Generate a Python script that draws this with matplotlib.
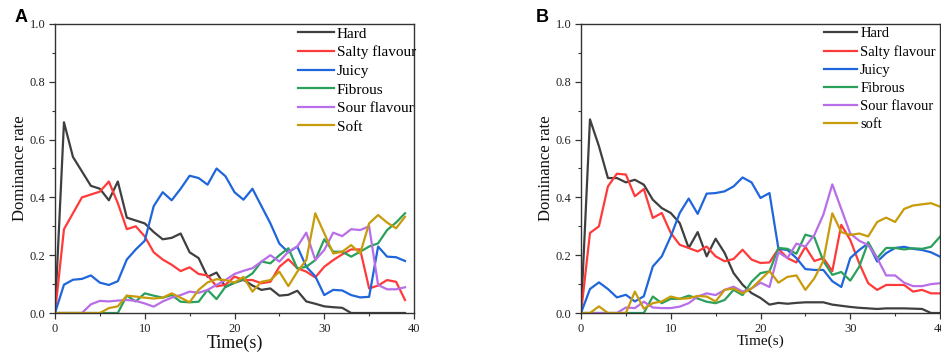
import numpy as np
import matplotlib
matplotlib.use("Agg")
import matplotlib.pyplot as plt
from matplotlib.ticker import MultipleLocator

# ---------------- data ----------------
time_a = list(range(0, 40))
time_b = list(range(0, 41))

hard_a = [0.0, 0.66, 0.54, 0.49, 0.44, 0.43, 0.39, 0.455, 0.33, 0.32, 0.31, 0.28, 0.255, 0.26,
          0.275, 0.21, 0.19, 0.125, 0.14, 0.09, 0.105, 0.115, 0.095, 0.08, 0.085, 0.06, 0.063,
          0.077, 0.04, 0.032, 0.023, 0.02, 0.018, 0.0, 0.0, 0.0, 0.0, 0.0, 0.0, 0.0]
salty_a = [0.0, 0.29, 0.345, 0.40, 0.41, 0.42, 0.455, 0.38, 0.29, 0.30, 0.265, 0.21, 0.185, 0.167,
           0.145, 0.158, 0.135, 0.13, 0.092, 0.098, 0.126, 0.114, 0.114, 0.103, 0.108, 0.16, 0.186,
           0.155, 0.143, 0.123, 0.16, 0.183, 0.203, 0.22, 0.22, 0.085, 0.095, 0.114, 0.108, 0.045]
juicy_a = [0.0, 0.098, 0.115, 0.118, 0.13, 0.105, 0.097, 0.11, 0.185, 0.22, 0.25, 0.37, 0.418, 0.39,
           0.43, 0.475, 0.467, 0.444, 0.50, 0.473, 0.418, 0.392, 0.43, 0.37, 0.31, 0.24, 0.21,
           0.23, 0.16, 0.127, 0.062, 0.08, 0.078, 0.062, 0.054, 0.056, 0.23, 0.195, 0.193, 0.18]
fibrous_a = [0.0, 0.0, 0.0, 0.0, 0.0, 0.0, 0.0, 0.0, 0.06, 0.04, 0.068, 0.06, 0.053, 0.062, 0.039,
             0.037, 0.039, 0.08, 0.048, 0.091, 0.105, 0.117, 0.137, 0.178, 0.172, 0.20, 0.224,
             0.154, 0.16, 0.183, 0.255, 0.212, 0.212, 0.195, 0.212, 0.23, 0.241, 0.287, 0.313, 0.345]
sour_a = [0.0, 0.0, 0.0, 0.0, 0.03, 0.042, 0.04, 0.043, 0.045, 0.042, 0.033, 0.022, 0.04, 0.053,
          0.062, 0.074, 0.07, 0.08, 0.097, 0.114, 0.135, 0.146, 0.155, 0.178, 0.20, 0.178, 0.212,
          0.23, 0.278, 0.183, 0.218, 0.278, 0.266, 0.29, 0.287, 0.30, 0.097, 0.082, 0.082, 0.089]
soft_a = [0.0, 0.0, 0.0, 0.0, 0.0, 0.0, 0.017, 0.023, 0.06, 0.057, 0.053, 0.05, 0.053, 0.068, 0.053,
          0.037, 0.08, 0.106, 0.117, 0.114, 0.105, 0.125, 0.074, 0.108, 0.114, 0.143, 0.093, 0.143,
          0.183, 0.345, 0.276, 0.206, 0.212, 0.235, 0.206, 0.31, 0.339, 0.313, 0.293, 0.333]

hard_b = [0.0, 0.67, 0.577, 0.467, 0.467, 0.452, 0.461, 0.444, 0.392, 0.363, 0.346, 0.311, 0.225,
          0.28, 0.196, 0.257, 0.208, 0.138, 0.098, 0.069, 0.052, 0.029, 0.035, 0.032, 0.035, 0.037,
          0.037, 0.037, 0.029, 0.025, 0.021, 0.018, 0.016, 0.014, 0.016, 0.016, 0.016, 0.015, 0.014,
          0.0, 0.0]
salty_b = [0.0, 0.277, 0.30, 0.438, 0.482, 0.479, 0.404, 0.429, 0.329, 0.346, 0.277, 0.236, 0.225,
           0.213, 0.23, 0.196, 0.179, 0.187, 0.219, 0.185, 0.173, 0.175, 0.222, 0.19, 0.175, 0.229,
           0.18, 0.19, 0.145, 0.305, 0.253, 0.172, 0.103, 0.08, 0.097, 0.097, 0.097, 0.074, 0.08,
           0.068, 0.068]
juicy_b = [0.0, 0.083, 0.106, 0.083, 0.054, 0.063, 0.04, 0.058, 0.161, 0.196, 0.265, 0.346, 0.396,
           0.343, 0.413, 0.415, 0.421, 0.438, 0.469, 0.452, 0.398, 0.415, 0.222, 0.218, 0.19, 0.152,
           0.149, 0.149, 0.11, 0.09, 0.19, 0.218, 0.241, 0.178, 0.207, 0.225, 0.229, 0.222, 0.218,
           0.21, 0.195]
fibrous_b = [0.0, 0.0, 0.0, 0.0, 0.0, 0.0, 0.0, 0.0, 0.057, 0.034, 0.049, 0.049, 0.06, 0.05, 0.039,
             0.034, 0.045, 0.08, 0.062, 0.108, 0.138, 0.144, 0.225, 0.222, 0.205, 0.271, 0.262,
             0.18, 0.132, 0.142, 0.112, 0.16, 0.245, 0.19, 0.225, 0.225, 0.22, 0.224, 0.222, 0.229,
             0.264]
sour_b = [0.0, 0.0, 0.0, 0.0, 0.0, 0.019, 0.017, 0.039, 0.019, 0.017, 0.017, 0.022, 0.034, 0.057,
          0.068, 0.062, 0.08, 0.091, 0.074, 0.085, 0.105, 0.09, 0.21, 0.19, 0.24, 0.23, 0.27, 0.34,
          0.445, 0.36, 0.275, 0.25, 0.235, 0.19, 0.13, 0.13, 0.105, 0.093, 0.093, 0.1, 0.103]
soft_b = [0.0, 0.0, 0.023, 0.0, 0.0, 0.0, 0.074, 0.015, 0.034, 0.04, 0.057, 0.049, 0.051, 0.059,
          0.057, 0.04, 0.08, 0.085, 0.068, 0.085, 0.115, 0.145, 0.105, 0.125, 0.13, 0.08, 0.12,
          0.18, 0.345, 0.28, 0.27, 0.275, 0.265, 0.315, 0.33, 0.315, 0.36, 0.372, 0.376, 0.38, 0.368]

labels_a = ["Hard", "Salty flavour", "Juicy", "Fibrous", "Sour flavour", "Soft"]
labels_b = ["Hard", "Salty flavour", "Juicy", "Fibrous", "Sour flavour", "soft"]
colors = ["#3f3f3f", "#ff3a3a", "#1f66dc", "#2aa05c", "#b86ee8", "#c89b0a"]

x_ticks = [0, 10, 20, 30, 40]
y_ticks = [0.0, 0.2, 0.4, 0.6, 0.8, 1.0]

# ---------------- figure ----------------
fig = plt.figure(figsize=(9.41, 3.54), dpi=100)
serif = "Liberation Serif"

def style_axes(ax, xlabel_size):
    ax.set_xlim(0, 40)
    ax.set_ylim(0, 1.0)
    ax.set_xticks(x_ticks)
    ax.set_yticks(y_ticks)
    ax.set_xticklabels([str(t) for t in x_ticks])
    ax.set_yticklabels([f"{t:.1f}" for t in y_ticks])
    ax.xaxis.set_minor_locator(MultipleLocator(5))
    ax.yaxis.set_minor_locator(MultipleLocator(0.1))
    ax.tick_params(which="major", direction="out", length=4, width=0.9, colors="#333333",
                   labelsize=9, pad=3)
    ax.tick_params(which="minor", direction="out", length=2.5, width=0.8, colors="#333333")
    for lab in ax.get_xticklabels() + ax.get_yticklabels():
        lab.set_fontfamily(serif)
        lab.set_color("#222222")
    for s in ax.spines.values():
        s.set_color("#333333")
        s.set_linewidth(1.0)
    ax.set_xlabel("Time(s)", fontfamily=serif, fontsize=xlabel_size, labelpad=0, color="#111111")
    ax.set_ylabel("Dominance rate", fontfamily=serif, fontsize=12, labelpad=1, color="#111111")

def add_legend(ax, xanchor, size):
    ax.legend(loc="upper left", bbox_to_anchor=(xanchor, 0.995), frameon=False,
              prop={"family": serif, "size": size}, handlelength=2.3, handletextpad=0.2,
              labelspacing=0.32 * 11 / size, borderaxespad=0.0, borderpad=0.1)

ax_a = fig.add_axes([55 / 941, 1 - 313 / 354, 359 / 941, 289 / 354])
series_a = [hard_a, salty_a, juicy_a, fibrous_a, sour_a, soft_a]
for ys, lab, c in zip(series_a, labels_a, colors):
    ax_a.plot(time_a, ys, color=c, lw=1.6, label=lab, solid_joinstyle="round")
style_axes(ax_a, 13)
add_legend(ax_a, 0.674, 11)

ax_b = fig.add_axes([581 / 941, 1 - 313 / 354, 359 / 941, 289 / 354])
series_b = [hard_b, salty_b, juicy_b, fibrous_b, sour_b, soft_b]
for ys, lab, c in zip(series_b, labels_b, colors):
    ax_b.plot(time_b, ys, color=c, lw=1.6, label=lab, solid_joinstyle="round")
style_axes(ax_b, 11)
add_legend(ax_b, 0.672, 10.5)

fig.text(15 / 941, 1 - 18 / 354, "A", fontsize=13, fontweight="bold", fontfamily="Liberation Sans",
         ha="left", va="center")
fig.text(536 / 941, 1 - 18 / 354, "B", fontsize=13, fontweight="bold", fontfamily="Liberation Sans",
         ha="left", va="center")

fig.savefig("out.png", dpi=100)
